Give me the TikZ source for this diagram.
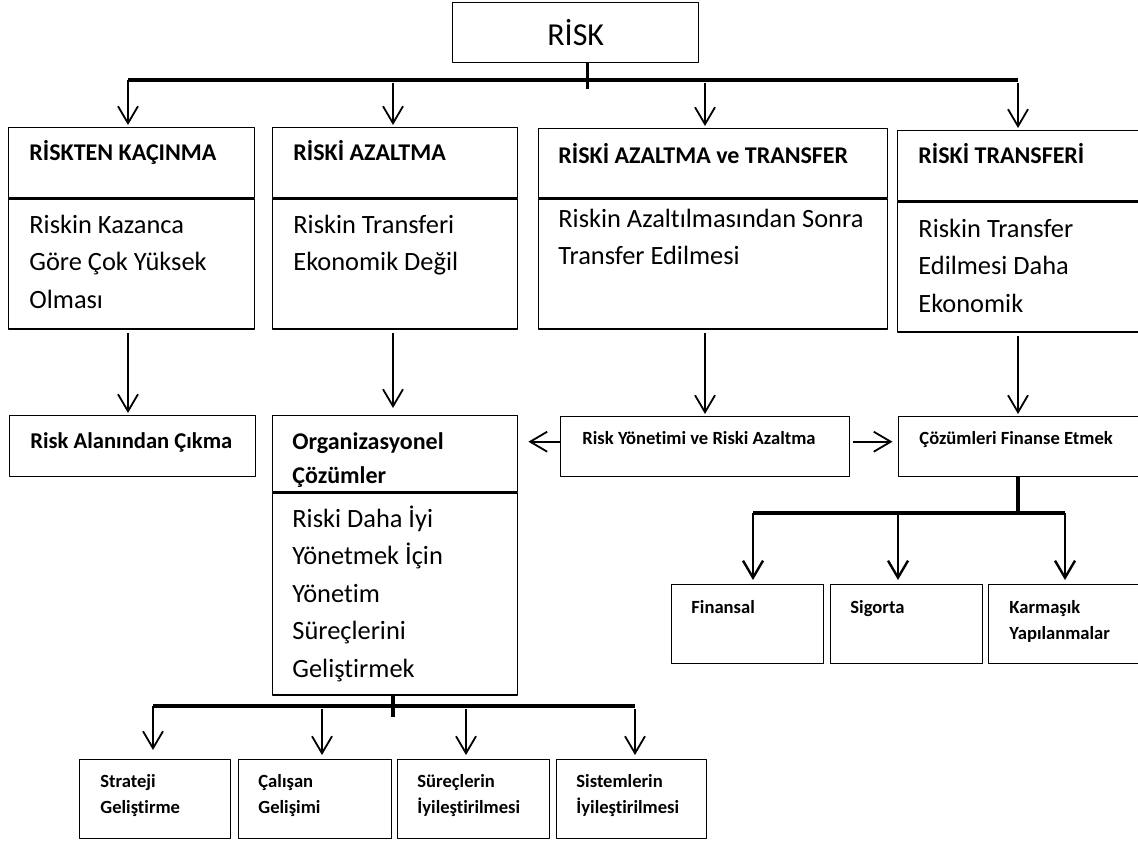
\documentclass[tikz,border=0pt]{standalone}
\usepackage{fontspec}
\setmainfont{Carlito}[Ligatures=NoCommon]
\usetikzlibrary{arrows.meta}

\begin{document}
\begin{tikzpicture}[x=0.5bp,y=-0.5bp,>={Straight Barb[length=8.5bp,width=10bp]},line join=bevel,
  box/.style={draw,line width=0.7bp,inner sep=0pt,anchor=north west},
  headtxt/.style={anchor=base west,inner sep=0pt,text width=170bp,align=flush left,font=\bfseries\fontsize{12bp}{17bp}\selectfont},
  bodytxt/.style={anchor=base west,inner sep=0pt,text width=170bp,align=flush left,font=\fontsize{13.2bp}{18.75bp}\selectfont},
  smalltxt/.style={anchor=base west,inner sep=0pt,text width=80bp,align=flush left,font=\bfseries\fontsize{9.3bp}{13.3bp}\selectfont},
  barr/.style={->,line width=0.9bp,shorten >=1bp},
  arr/.style={barr,shorten <=1.5bp},
  bus/.style={line width=1.7bp},
]
\useasboundingbox (0,0) rectangle (1138,843);
\clip (0,0) rectangle (1138,843);

% Columns and bus lines
\coordinate (colA) at (128,0);
\coordinate (colB) at (393,0);
\coordinate (colC) at (705,0);
\coordinate (colD) at (1018,0);
\coordinate (finA) at (753,0);
\coordinate (finB) at (898,0);
\coordinate (finC) at (1065,0);
\coordinate (botA) at (153,0);
\coordinate (botB) at (322,0);
\coordinate (botC) at (466,0);
\coordinate (botD) at (635,0);
\coordinate (bus) at (0,80);
\coordinate (fbus) at (0,513);
\coordinate (obus) at (0,706);

% Node: risk
\node[box,minimum width=123bp,minimum height=30bp,font=\fontsize{16bp}{18bp}\selectfont] (risk) at (452,2) {RİSK};

% Node: kacinma
\node[box,minimum width=123bp,minimum height=35bp] (kacinma) at (8,127) {};
\node[box,minimum width=123bp,minimum height=65bp] (kacinmaB) at (kacinma.south west) {};
\node[headtxt] (kacinmaT) at (29,160) {RİSKTEN KAÇINMA};
\node[bodytxt] (kacinmaD) at (29,233) {Riskin Kazanca\\Göre Çok Yüksek\\Olması};

% Node: azaltma
\node[box,minimum width=122.5bp,minimum height=35bp] (azaltma) at (272,127) {};
\node[box,minimum width=122.5bp,minimum height=65bp] (azaltmaB) at (azaltma.south west) {};
\node[headtxt] (azaltmaT) at (293,160) {RİSKİ AZALTMA};
\node[bodytxt] (azaltmaD) at (293,233) {Riskin Transferi\\Ekonomik Değil};

% Node: azaltmatr
\node[box,minimum width=174.5bp,minimum height=34.5bp] (azaltmatr) at (538,128) {};
\node[box,minimum width=174.5bp,minimum height=65bp] (azaltmatrB) at (azaltmatr.south west) {};
\node[headtxt] (azaltmatrT) at (558,163) {RİSKİ AZALTMA ve TRANSFER};
\node[bodytxt] (azaltmatrD) at (558,227) {Riskin Azaltılmasından Sonra\\Transfer Edilmesi};

% Node: transferi
\node[box,minimum width=124bp,minimum height=35bp] (transferi) at (897,130) {};
\node[box,minimum width=124bp,minimum height=65bp] (transferiB) at (transferi.south west) {};
\node[headtxt] (transferiT) at (918,163) {RİSKİ TRANSFERİ};
\node[bodytxt] (transferiD) at (918,237) {Riskin Transfer\\Edilmesi Daha\\Ekonomik};

% Node: cikma
\node[box,minimum width=123bp,minimum height=30.5bp] (cikma) at (9,415) {};
\node[headtxt,font=\bfseries\fontsize{11.3bp}{17bp}\selectfont] (cikmaT) at (30,448) {Risk Alanından Çıkma};

% Node: orgcoz
\node[box,minimum width=122.5bp,minimum height=38bp] (orgcoz) at (272,415) {};
\node[box,minimum width=122.5bp,minimum height=101bp] (orgcozB) at (orgcoz.south west) {};
\node[headtxt] (orgcozT) at (292,449) {Organizasyonel\\Çözümler};
\node[bodytxt] (orgcozD) at (292,527) {Riski Daha İyi\\Yönetmek İçin\\Yönetim\\Süreçlerini\\Geliştirmek};

% Node: ryra
\node[box,minimum width=144.5bp,minimum height=30bp] (ryra) at (560,416) {};
\node[smalltxt,text width=140bp] (ryraT) at (582,444) {Risk Yönetimi ve Riski Azaltma};
\coordinate (ryraL) at ([yshift=2.5bp]ryra.west);
\coordinate (ryraR) at ([yshift=2.5bp]ryra.east);

% Node: cfe
\node[box,minimum width=124bp,minimum height=30bp] (cfe) at (898,416) {};
\node[smalltxt,text width=120bp] (cfeT) at (919,444) {Çözümleri Finanse Etmek};

% Node: finansal, sigorta, karmasik
\node[box,minimum width=76bp,minimum height=39.5bp] (finansal) at (671,584) {};
\node[box,minimum width=76bp,minimum height=39.5bp] (sigorta) at (830,584) {};
\node[box,minimum width=80bp,minimum height=39.5bp] (karmasik) at (988,584) {};
\node[smalltxt] (finansalT) at (691,613) {Finansal};
\node[smalltxt] (sigortaT) at (850,613) {Sigorta};
\node[smalltxt] (karmasikT) at (1009,613) {Karmaşık\\Yapılanmalar};

% Node: strateji, calisan, surec, sistem
\node[box,minimum width=75.5bp,minimum height=39.5bp] (strateji) at (79,759) {};
\node[box,minimum width=76.5bp,minimum height=39.5bp] (calisan) at (238,759) {};
\node[box,minimum width=76bp,minimum height=39.5bp] (surec) at (397,759) {};
\node[box,minimum width=75bp,minimum height=39.5bp] (sistem) at (556,759) {};
\node[smalltxt] (stratejiT) at (100,787) {Strateji\\Geliştirme};
\node[smalltxt] (calisanT) at (258,787) {Çalışan\\Gelişimi};
\node[smalltxt] (surecT) at (417,787) {Süreçlerin\\İyileştirilmesi};
\node[smalltxt] (sistemT) at (576,787) {Sistemlerin\\İyileştirilmesi};

% Edge: risk -> bus
\draw[bus] ([xshift=6bp]risk.south) -- ++(0,26);
\draw[bus] (colA |- bus) -- (colD |- bus);

% Edge: bus -> kacinma, azaltma, azaltmatr, transferi
\draw[barr] (colA |- bus) -- (colA |- kacinma.north);
\draw[arr] (colB |- bus) -- (colB |- azaltma.north);
\draw[arr] (colC |- bus) -- (colC |- azaltmatr.north);
\draw[arr] (colD |- bus) -- (colD |- transferi.north);

% Edge: row one -> row two
\draw[arr] (colA |- kacinmaB.south) -- (colA |- cikma.north);
\draw[arr,shorten >=3.5bp] (colB |- azaltmaB.south) -- (colB |- orgcoz.north);
\draw[arr] (colC |- azaltmatrB.south) -- (colC |- ryra.north);
\draw[arr] (colD |- transferiB.south) -- (colD |- cfe.north);

% Edge: ryra -> orgcoz, ryra -> cfe
\draw[barr,shorten >=5bp] (ryraL) -- (ryraL -| orgcoz.east);
\draw[arr,shorten >=2.75bp] (ryraR) -- (ryraR -| cfe.west);

% Edge: cfe -> finansal, sigorta, karmasik
\draw[bus] (colD |- cfe.south) -- (colD |- fbus);
\draw[bus] (finA |- fbus) -- (finC |- fbus);
\draw[barr,line width=1.2bp,shorten >=2bp] (finA |- fbus) -- (finA |- finansal.north);
\draw[barr,line width=1.2bp,shorten >=2bp] (finB |- fbus) -- (finB |- sigorta.north);
\draw[barr,line width=1.2bp,shorten >=2bp] (finC |- fbus) -- (finC |- karmasik.north);

% Edge: orgcoz -> strateji, calisan, surec, sistem
\draw[bus] (colB |- orgcozB.south) -- ++(0,21);
\draw[bus] (botA |- obus) -- (botD |- obus);
\draw[barr,shorten >=4.5bp] (botA |- obus) -- (botA |- strateji.north);
\draw[arr,shorten >=2bp] (botB |- obus) -- (botB |- calisan.north);
\draw[arr,shorten >=2bp] (botC |- obus) -- (botC |- surec.north);
\draw[arr,shorten >=2bp] (botD |- obus) -- (botD |- sistem.north);

\end{tikzpicture}
\end{document}
